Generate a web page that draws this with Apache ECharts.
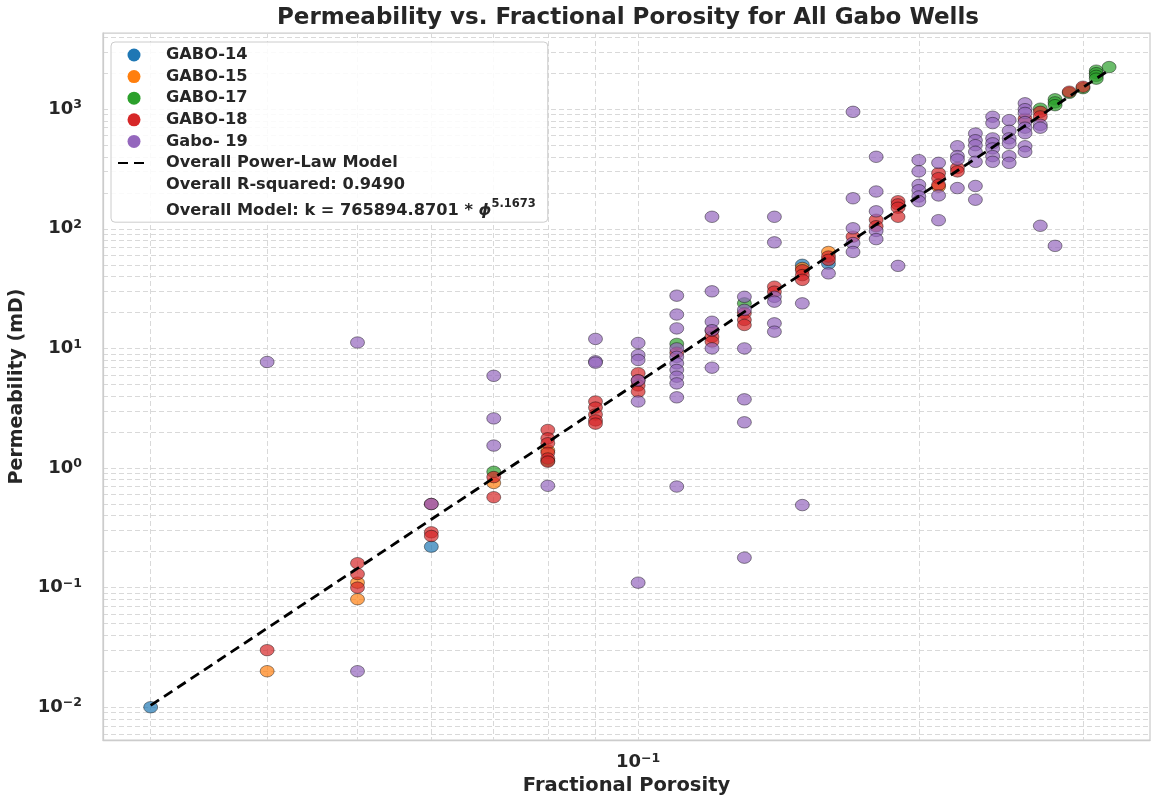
<!DOCTYPE html>
<html><head><meta charset="utf-8">
<script src="https://cdn.jsdelivr.net/npm/echarts@6/dist/echarts.min.js"></script>
<style>html,body{margin:0;padding:0;background:#fff}#c{width:1151px;height:796px}</style>
</head><body><div id="c"></div>
<script>
// ---------------- data (porosity fraction, permeability mD) ----------------
const wellNames = ['GABO-14', 'GABO-15', 'GABO-17', 'GABO-18', 'Gabo- 19'];
const wellColors = ['#1f77b4', '#ff7f0e', '#2ca02c', '#d62728', '#9467bd'];

const gabo14 = [[0.03,0.01],[0.06,0.22],[0.15,50],[0.16,51]];
const gabo15 = [[0.04,0.02],[0.05,0.11],[0.05,0.08],[0.07,0.75],[0.08,1.4],[0.15,47],[0.16,64],[0.21,225]];
const gabo17 = [[0.07,0.93],[0.08,1.15],[0.11,10.9],[0.13,23.8],[0.27,1010],[0.28,1210],[0.28,1140],[0.28,1080],
  [0.29,1370],[0.30,1500],[0.31,2100],[0.31,2000],[0.31,1900],[0.31,1800],[0.32,2250]];
const gabo18 = [[0.04,0.03],[0.05,0.16],[0.05,0.13],[0.05,0.1],[0.06,0.5],[0.06,0.29],[0.06,0.27],
  [0.07,0.84],[0.07,0.57],[0.08,2.08],[0.08,1.77],[0.08,1.61],[0.08,1.34],[0.08,1.2],[0.08,1.13],
  [0.09,3.6],[0.09,3.2],[0.09,2.8],[0.09,2.5],[0.09,2.35],[0.10,6.2],[0.10,5.4],[0.10,4.9],[0.10,4.35],
  [0.11,9.2],[0.12,14],[0.12,12.5],[0.12,11.4],[0.13,19.7],[0.13,17.3],[0.13,15.7],[0.14,32.8],[0.14,29.8],
  [0.15,45],[0.15,41],[0.15,37.4],[0.16,58.6],[0.16,55],[0.17,86],[0.18,119],[0.18,105],
  [0.19,170],[0.19,160],[0.19,150],[0.19,126],[0.21,292],[0.21,265],[0.21,233],[0.22,323],[0.22,302],
  [0.26,830],[0.27,950],[0.27,870],[0.29,1400],[0.30,1540]];
const gabo19 = [[0.04,7.7],[0.05,11.2],[0.05,0.02],[0.06,0.5],[0.07,5.9],[0.07,2.6],[0.07,1.54],
  [0.08,0.71],[0.09,12],[0.09,7.8],[0.09,7.6],[0.10,11.1],[0.10,8.8],[0.10,8.0],[0.10,5.4],[0.10,3.6],[0.10,0.11],
  [0.11,27.6],[0.11,19.2],[0.11,14.7],[0.11,10.0],[0.11,8.5],[0.11,7.5],[0.11,6.6],[0.11,5.8],[0.11,5.1],[0.11,3.9],[0.11,0.70],
  [0.12,126],[0.12,30],[0.12,16.7],[0.12,14.2],[0.12,10],[0.12,6.9],
  [0.13,27],[0.13,21],[0.13,10],[0.13,3.75],[0.13,2.41],[0.13,0.178],
  [0.14,126],[0.14,77],[0.14,27],[0.14,24.6],[0.14,16.2],[0.14,13.8],
  [0.15,23.8],[0.15,0.49],[0.16,42.4],[0.17,950],[0.17,180],[0.17,101],[0.17,76],[0.17,64],
  [0.18,400],[0.18,205],[0.18,140],[0.18,96],[0.18,82],[0.19,49],
  [0.20,375],[0.20,302],[0.20,233],[0.20,210],[0.20,186],[0.20,170],
  [0.21,356],[0.21,190],[0.21,118],[0.22,490],[0.22,405],[0.22,380],[0.22,219],
  [0.23,626],[0.23,550],[0.23,500],[0.23,440],[0.23,363],[0.23,228],[0.23,175],
  [0.24,865],[0.24,765],[0.24,570],[0.24,518],[0.24,470],[0.24,405],[0.24,363],
  [0.25,810],[0.25,660],[0.25,570],[0.25,518],[0.25,405],[0.25,356],
  [0.26,1120],[0.26,1000],[0.26,930],[0.26,780],[0.26,700],[0.26,630],[0.26,490],[0.26,440],
  [0.27,740],[0.27,700],[0.27,106],[0.28,72]];
const wellData = [gabo14, gabo15, gabo17, gabo18, gabo19];

// power-law model from legend
const modelCoef = 765894.8701;
const modelExp = 5.1673;
const modelR2 = '0.9490';
const modelPhiRange = [0.03, 0.32];

// axis ticks / grid
const xLabelExps = [-1];
const yLabelExps = [-2, -1, 0, 1, 2, 3];
const xGridPhi = [0.03, 0.04, 0.05, 0.06, 0.07, 0.08, 0.09, 0.1, 0.2, 0.3];
const yGridMantissas = [1, 2, 3, 4, 5, 6, 7, 8, 9];
const yGridExps = [-3, -2, -1, 0, 1, 2, 3];
const xRangeLog = [-1.574, -0.451];
const yRangeLog = [-2.274, 3.637];

// ---------------- build ----------------
const L = Math.log10;
const yGridVals = [];
yGridExps.forEach(e => yGridMantissas.forEach(m => yGridVals.push(L(m) + e)));
const FF = 'DejaVu Sans';
const TXT = '#262626';
const supTxt = n => String(n).replace('-', '\u2212');
const powLabel = v => '{b|10}{s|' + supTxt(Math.round(v)) + '}';
const richPow = {
  b: {fontFamily: FF, fontWeight: 'bold', fontSize: 18, color: TXT, lineHeight: 21},
  s: {fontFamily: FF, fontWeight: 'bold', fontSize: 12.5, color: TXT, lineHeight: 12, verticalAlign: 'top'}
};
const gridLine = {show: true, lineStyle: {color: '#d9d9d9', width: 1, type: [5, 3]}};
const spine = {show: true, onZero: false, lineStyle: {color: '#cccccc', width: 1.25}};

const modelName = 'Overall Power-Law Model';
const r2Name = 'Overall R-squared: ' + modelR2;
const eqName = 'Overall Model: k = ' + modelCoef.toFixed(4) + ' * \u03D5' + modelExp;

const series = wellNames.map((n, i) => ({
  name: n, type: 'scatter', symbol: 'circle', symbolSize: [14, 11.5],
  itemStyle: {color: wellColors[i], opacity: 0.7, borderColor: 'rgba(0,0,0,0.75)', borderWidth: 0.8},
  data: wellData[i].map(p => [L(p[0]), L(p[1])]), z: 2 + i * 0.01
}));
series.push({
  name: modelName, type: 'line', symbol: 'none', z: 5,
  itemStyle: {color: '#000'},
  lineStyle: {color: '#000', width: 2.8, type: [10, 6]},
  data: modelPhiRange.map(p => [L(p), L(modelCoef * Math.pow(p, modelExp))])
});
series.push({name: r2Name, type: 'line', data: []});
series.push({name: eqName, type: 'line', data: []});

const legendData = wellNames.map(n => ({name: n, itemStyle: {opacity: 1, borderWidth: 0}}));
legendData.push({name: modelName, itemStyle: {opacity: 0}});
legendData.push({name: r2Name, icon: 'none'});
legendData.push({name: eqName, icon: 'none'});

const option = {
  animation: false,
  backgroundColor: '#ffffff',
  title: {
    text: 'Permeability vs. Fractional Porosity for All Gabo Wells',
    left: 277, top: 7, padding: 0,
    textStyle: {fontFamily: FF, fontWeight: 'bold', fontSize: 23, color: TXT}
  },
  grid: {left: 103, right: 1, top: 33, bottom: 56, show: true, borderColor: '#cccccc', borderWidth: 1.25,
         outerBoundsMode: 'none', containLabel: false},
  legend: {
    orient: 'vertical', left: 111, top: 42, padding: [5, 12, 3, 6],
    itemWidth: 32, itemHeight: 13, itemGap: 5.6,
    backgroundColor: 'rgba(255,255,255,0.85)', borderColor: '#cccccc', borderWidth: 1, borderRadius: 4,
    data: legendData,
    formatter: name => name === eqName
      ? '{t|Overall Model: k = ' + modelCoef.toFixed(4) + ' * }{p|\u03D5}{s|' + modelExp + '}'
      : '{t|' + name + '}',
    textStyle: {
      padding: [0, 0, 0, 11],
      rich: {
        t: {fontFamily: FF, fontWeight: 'bold', fontSize: 16.2, color: TXT, lineHeight: 16.5},
        p: {fontFamily: FF, fontWeight: 'bold', fontStyle: 'italic', fontSize: 16.2, color: TXT, lineHeight: 26},
        s: {fontFamily: FF, fontWeight: 'bold', fontSize: 11.5, color: TXT, lineHeight: 18, verticalAlign: 'top'}
      }
    }
  },
  xAxis: {
    type: 'value', min: xRangeLog[0], max: xRangeLog[1],
    name: 'Fractional Porosity', nameLocation: 'middle', nameGap: 35,
    nameTextStyle: {fontFamily: FF, fontWeight: 'bold', fontSize: 19.5, color: TXT},
    axisLine: spine,
    axisTick: {show: false, customValues: xGridPhi.map(L)},
    axisLabel: {customValues: xLabelExps, margin: 12, formatter: powLabel, rich: richPow},
    splitLine: gridLine
  },
  yAxis: {
    type: 'value', min: yRangeLog[0], max: yRangeLog[1],
    name: 'Permeability (mD)', nameLocation: 'middle', nameGap: 74,
    nameTextStyle: {fontFamily: FF, fontWeight: 'bold', fontSize: 19, color: TXT},
    axisLine: spine,
    axisTick: {show: false, customValues: yGridVals},
    axisLabel: {customValues: yLabelExps, margin: 21, formatter: powLabel, rich: richPow},
    splitLine: gridLine
  },
  series: series
};
const chart = echarts.init(document.getElementById('c'));
chart.setOption(option);
</script></body></html>
